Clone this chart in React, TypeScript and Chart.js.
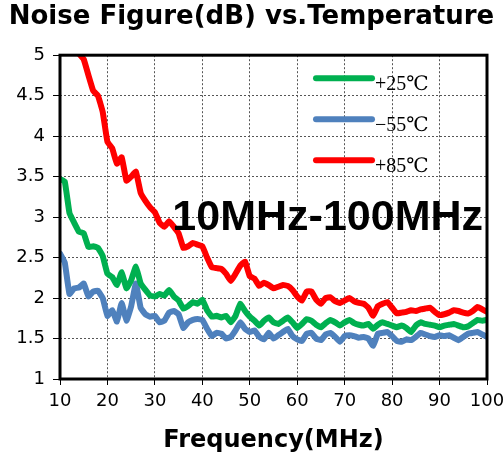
import React, { useEffect, useRef } from "react";
import { Chart, registerables } from "chart.js";

Chart.register(...registerables);

const freq: number[] = [
  10, 11, 12, 13, 14, 15, 16, 17, 18, 19, 20, 21, 22, 23, 24, 25, 26, 27, 28, 29,
  30, 31, 32, 33, 34, 35, 36, 37, 38, 39, 40, 41, 42, 43, 44, 45, 46, 47, 48, 49,
  50, 51, 52, 53, 54, 55, 56, 57, 58, 59, 60, 61, 62, 63, 64, 65, 66, 67, 68, 69,
  70, 71, 72, 73, 74, 75, 76, 77, 78, 79, 80, 81, 82, 83, 84, 85, 86, 87, 88, 89,
  90, 91, 92, 93, 94, 95, 96, 97, 98, 99, 100,
];

const nf25: number[] = [
  3.47, 3.44, 3.05, 2.93, 2.82, 2.8, 2.63, 2.64, 2.62, 2.52,
  2.3, 2.26, 2.16, 2.32, 2.12, 2.22, 2.39, 2.18, 2.1, 2.03,
  2.02, 2.05, 2.03, 2.1, 2.02, 1.97, 1.87, 1.9, 1.95, 1.93,
  1.98, 1.85, 1.77, 1.78, 1.76, 1.78, 1.7, 1.78, 1.93, 1.84,
  1.77, 1.72, 1.66, 1.72, 1.76, 1.7, 1.68, 1.72, 1.76, 1.7,
  1.63, 1.68, 1.74, 1.72, 1.67, 1.64, 1.69, 1.73, 1.7, 1.66,
  1.7, 1.73, 1.69, 1.67, 1.66, 1.68, 1.62, 1.67, 1.7, 1.68,
  1.66, 1.64, 1.66, 1.63, 1.58, 1.66, 1.7, 1.68, 1.67, 1.66,
  1.64, 1.66, 1.67, 1.68, 1.66, 1.64, 1.65, 1.69, 1.73, 1.72,
  1.73,
];

const nfMinus55: number[] = [
  2.55, 2.44, 2.05, 2.12, 2.13, 2.18, 2.02, 2.08, 2.09, 2.0,
  1.78, 1.85, 1.71, 1.94, 1.72, 1.9, 2.18, 1.88, 1.8, 1.77,
  1.78, 1.7, 1.72, 1.82, 1.84, 1.8, 1.63, 1.7, 1.73, 1.74,
  1.73, 1.62, 1.53, 1.57, 1.56, 1.5, 1.52, 1.6, 1.7, 1.62,
  1.58, 1.6, 1.52, 1.49, 1.57, 1.5, 1.54, 1.58, 1.62, 1.53,
  1.49, 1.47, 1.56, 1.57, 1.5, 1.48, 1.55, 1.57, 1.52, 1.46,
  1.53, 1.54, 1.53, 1.51, 1.52, 1.5, 1.41, 1.56, 1.57, 1.58,
  1.53, 1.47, 1.46, 1.49, 1.48, 1.52, 1.57, 1.55, 1.53, 1.52,
  1.54, 1.53, 1.54, 1.51, 1.48, 1.52, 1.56, 1.57, 1.58, 1.55,
  1.52,
];

const nf85: (number | null)[] = [
  null, null, null, null, 5.02, 4.95, 4.75, 4.56, 4.5, 4.3,
  3.93, 3.85, 3.66, 3.74, 3.45, 3.5, 3.56, 3.3, 3.2, 3.12,
  3.06, 2.93, 2.88, 2.95, 2.88, 2.8, 2.62, 2.64, 2.68, 2.66,
  2.64, 2.5, 2.38, 2.37, 2.36, 2.3, 2.21, 2.3, 2.4, 2.45,
  2.27, 2.24, 2.15, 2.19, 2.16, 2.12, 2.14, 2.16, 2.15, 2.1,
  2.02, 1.97, 2.08, 2.08, 1.98, 1.93, 2.0, 2.01, 1.96, 1.94,
  1.97, 2.0, 1.96, 1.94, 1.93, 1.88, 1.78, 1.9, 1.93, 1.95,
  1.88, 1.81, 1.82, 1.83, 1.85, 1.84, 1.86, 1.87, 1.88, 1.83,
  1.79, 1.8, 1.82, 1.85, 1.84, 1.82, 1.81, 1.84, 1.89, 1.86,
  1.83,
];

const seriesNames: string[] = ["+25\u2103", "\u221255\u2103", "+85\u2103"];
const seriesColors: string[] = ["#00B050", "#4F81BD", "#FF0000"];
const titleText = "Noise Figure(dB) vs.Temperature";
const xTitle = "Frequency(MHz)";
const bandText = "10MHz-100MHz";

const overlayPlugin = {
  id: "overlay",
  afterDatasetsDraw(chart: any) {
    const { ctx, chartArea } = chart;
    const { left, right, top, bottom } = chartArea;
    ctx.save();
    ctx.strokeStyle = "#000";
    ctx.lineWidth = 3;
    ctx.strokeRect(left, top, right - left, bottom - top);
    ctx.fillStyle = "#000";
    ctx.font = "bold 43px 'Liberation Sans', Arial, sans-serif";
    ctx.textAlign = "right";
    ctx.textBaseline = "alphabetic";
    ctx.fillText(bandText, right - 4, top + 175);
    const lx0 = left + 256;
    const lx1 = left + 312;
    seriesNames.forEach((name, i) => {
      const y = top + 23 + i * 41;
      ctx.strokeStyle = seriesColors[i];
      ctx.lineWidth = 6;
      ctx.lineCap = "round";
      ctx.beginPath();
      ctx.moveTo(lx0, y);
      ctx.lineTo(lx1, y);
      ctx.stroke();
      ctx.fillStyle = "#000";
      ctx.font = "20px 'Liberation Serif', 'DejaVu Serif', serif";
      ctx.textAlign = "left";
      ctx.fillText(name, lx1 + 3, y + 12);
    });
    ctx.restore();
  },
};

export default function App() {
  const ref = useRef<HTMLCanvasElement | null>(null);
  useEffect(() => {
    document.body.style.margin = "0";
    const canvas = ref.current;
    if (!canvas) return;
    const mk = (vals: (number | null)[], i: number) => ({
      label: seriesNames[i],
      data: vals.map((v, k) => ({ x: freq[k], y: v })),
      borderColor: seriesColors[i],
      backgroundColor: seriesColors[i],
      borderWidth: 6,
      pointRadius: 0,
      tension: 0.1,
      spanGaps: false,
      borderJoinStyle: "round" as const,
      borderCapStyle: "round" as const,
    });
    const chart = new Chart(canvas, {
      type: "line",
      data: {
        datasets: [mk(nf85, 2), mk(nf25, 0), mk(nfMinus55, 1)],
      },
      options: {
        animation: false,
        responsive: false,
        layout: { padding: { left: 0, right: 0, top: 0, bottom: 0 } },
        plugins: {
          legend: { display: false },
          tooltip: { enabled: false },
          title: {
            display: true,
            text: titleText,
            color: "#000",
            font: { family: "'DejaVu Sans', Verdana, sans-serif", size: 26, weight: "bold" },
            padding: { top: 2, bottom: 22 },
          },
        },
        scales: {
          x: {
            type: "linear",
            min: 10,
            max: 100,
            afterFit: (s: any) => {
              s.height = 83;
              s.paddingRight = 16;
            },
            ticks: {
              stepSize: 10,
              color: "#000",
              padding: 6,
              font: { family: "'DejaVu Sans', Verdana, sans-serif", size: 18 },
            },
            grid: {
              color: "#555",
              tickColor: "#000",
              tickLength: 6,
              lineWidth: 1,
            },
            border: { display: false, dash: [2, 2] },
            title: {
              display: true,
              text: xTitle,
              color: "#000",
              font: { family: "'DejaVu Sans', Verdana, sans-serif", size: 24, weight: "bold" },
              padding: { top: 6, bottom: 7 },
            },
          },
          y: {
            min: 1,
            max: 5,
            afterFit: (s: any) => {
              s.width = 60;
            },
            ticks: {
              stepSize: 0.25,
              color: "#000",
              padding: 8,
              font: { family: "'DejaVu Sans', Verdana, sans-serif", size: 18 },
              callback: (v: any) => {
                const n = Number(v);
                return Math.abs(n * 2 - Math.round(n * 2)) < 1e-6 ? String(n) : "";
              },
            },
            grid: {
              color: (c: any) => {
                const n = c.tick ? c.tick.value : 0;
                return Math.abs(n * 2 - Math.round(n * 2)) < 1e-6 ? "#555" : "#aaa";
              },
              tickColor: "#000",
              tickLength: 7,
              lineWidth: 1,
            },
            border: { display: false, dash: [2, 2] },
          },
        },
      },
      plugins: [overlayPlugin],
    });
    return () => chart.destroy();
  }, []);
  return <canvas ref={ref} width={503} height={462} style={{ display: "block" }} />;
}
